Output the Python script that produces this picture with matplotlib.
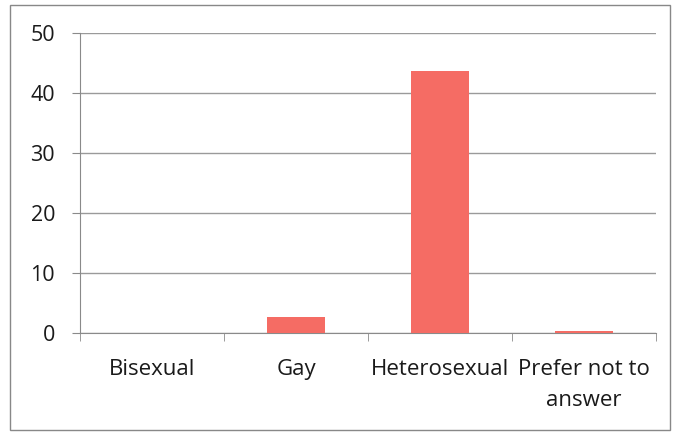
import numpy as np
import matplotlib.pyplot as plt
from matplotlib.patches import Rectangle

# Data
categories = ['Bisexual', 'Gay', 'Heterosexual', 'Prefer not to\nanswer']
values = [0, 2.6, 43.7, 0.3]
y_ticks = [0, 10, 20, 30, 40, 50]

plt.rcParams['font.family'] = ['Open Sans', 'DejaVu Sans']

fig = plt.figure(figsize=(6.77, 4.34), dpi=100)
ax = fig.add_axes([80 / 677, 101 / 434, 576 / 677, 300 / 434])

x = np.arange(len(categories))
ax.bar(x, values, width=0.4, color='#f56c64', zorder=3)

ax.set_xlim(-0.5, len(categories) - 0.5)
ax.set_ylim(0, 50)
ax.set_yticks(y_ticks)
ax.yaxis.grid(True, color='#9a9a9a', linewidth=1.0, zorder=0)

# category labels centred, tick marks on category boundaries
ax.set_xticks(x)
ax.set_xticklabels(categories, fontsize=16, color='#1a1a1a', linespacing=1.6)
ax.tick_params(axis='x', length=0, pad=19)
ax.set_xticks(np.arange(-0.5, len(categories)), minor=True)
ax.tick_params(axis='x', which='minor', length=6, color='#8a8a8a', direction='out')
ax.tick_params(axis='y', length=6, color='#8a8a8a', labelsize=15.5, pad=12, labelcolor='#1a1a1a')

for side in ['top', 'right']:
    ax.spines[side].set_visible(False)
for side in ['left', 'bottom']:
    ax.spines[side].set_color('#8a8a8a')

# outer border of the chart area
fig.patches.append(Rectangle((10 / 677, 4 / 434), 660 / 677, 425 / 434,
                             transform=fig.transFigure, fill=False,
                             edgecolor='#888888', linewidth=1.0))

fig.savefig('out.png', dpi=100)
